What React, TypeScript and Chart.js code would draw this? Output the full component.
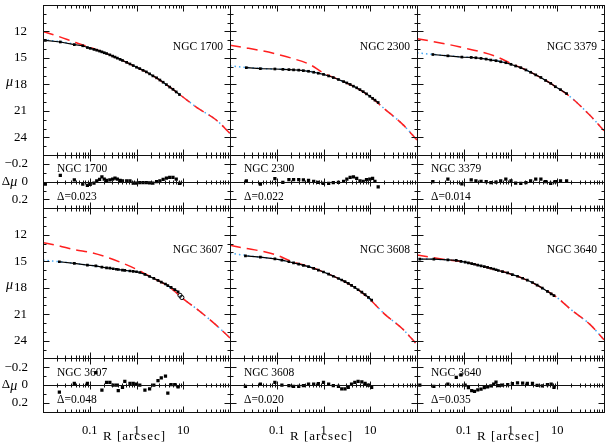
import React, { useEffect, useRef } from 'react';
import { Chart, registerables } from 'chart.js';

Chart.register(...registerables);

// ---------------- data ----------------
const galaxyNames = ['NGC 1700', 'NGC 2300', 'NGC 3379', 'NGC 3607', 'NGC 3608', 'NGC 3640'];
const rmsValues = ['0.023', '0.022', '0.014', '0.048', '0.020', '0.035'];
const xTitle = 'R [arcsec]';

const rTickValues = [0.1, 1, 10];
const muTickValues = [12, 15, 18, 21, 24];
const dmuTickValues = [-0.2, 0, 0.2];

// model curves sampled at these radii (arcsec)
const modelR = [0.01, 0.02, 0.05, 0.1, 0.2, 0.5, 1, 2, 5, 10, 20, 50, 100];

// NGC 1700
const sersic1700 = [12.0, 12.5, 13.25, 13.78, 14.38, 15.28, 16.05, 16.86, 18.25, 19.45, 20.65, 22.0, 23.55];
const core1700 = [12.9, 13.12, 13.45, 13.88, 14.38, 15.28, 16.05, 16.86, 18.25, 19.45, 20.65, 22.0, 23.55];
const logR1700 = [-1.95, -1.63, -1.33, -1.15, -1.05, -0.99, -0.91, -0.85, -0.79, -0.74, -0.69, -0.64, -0.57, -0.51, -0.46, -0.41, -0.35, -0.30, -0.21, -0.14, -0.07, 0.0, 0.07, 0.14, 0.21, 0.28, 0.35, 0.43, 0.50, 0.57, 0.64, 0.71, 0.78, 0.85, 0.92];
const mu1700 = [13.01, 13.19, 13.49, 13.62, 13.82, 13.91, 14.03, 14.12, 14.22, 14.31, 14.41, 14.5, 14.65, 14.79, 14.9, 15.02, 15.16, 15.28, 15.5, 15.68, 15.86, 16.05, 16.21, 16.4, 16.58, 16.8, 17.03, 17.25, 17.5, 17.75, 18.02, 18.3, 18.55, 18.85, 19.15];
const dmu1700 = [0.027, -0.07, -0.02, 0.027, 0.042, 0.03, 0.015, -0.008, -0.027, -0.053, -0.03, -0.015, -0.02, -0.03, -0.04, -0.03, -0.015, -0.01, -0.008, -0.008, 0.015, 0.015, 0.01, 0.01, 0.01, 0.012, 0.015, 0.0, -0.01, -0.027, -0.04, -0.05, -0.05, -0.03, 0.02];

// NGC 2300
const sersic2300 = [13.55, 13.82, 14.2, 14.57, 15.0, 15.72, 16.7, 17.4, 18.38, 19.38, 20.75, 22.55, 24.3];
const core2300 = [15.9, 16.06, 16.2, 16.26, 16.33, 16.52, 16.86, 17.4, 18.38, 19.38, 20.75, 22.55, 24.3];
const logR2300 = [-1.65, -1.35, -1.04, -0.87, -0.74, -0.64, -0.53, -0.43, -0.32, -0.21, -0.11, 0.0, 0.11, 0.21, 0.32, 0.43, 0.50, 0.57, 0.64, 0.71, 0.78, 0.85, 0.92, 0.99, 1.05, 1.10, 1.17];
const mu2300 = [16.10, 16.21, 16.25, 16.29, 16.32, 16.35, 16.38, 16.44, 16.51, 16.62, 16.73, 16.86, 17.04, 17.22, 17.44, 17.68, 17.83, 18.0, 18.2, 18.38, 18.59, 18.82, 19.07, 19.34, 19.58, 19.78, 20.05];
const dmu2300 = [-0.01, 0.027, -0.034, 0.008, -0.023, -0.023, -0.023, -0.02, -0.015, -0.004, 0.008, 0.02, 0.02, 0.011, 0.008, -0.004, -0.03, -0.05, -0.053, -0.038, -0.01, -0.004, -0.023, -0.03, -0.038, -0.004, 0.057];

// NGC 3379
const sersic3379 = [12.82, 13.1, 13.5, 13.86, 14.22, 14.85, 15.6, 16.28, 17.38, 18.36, 19.5, 21.5, 23.24];
const core3379 = [14.42, 14.58, 14.77, 14.9, 15.0, 15.3, 15.72, 16.28, 17.38, 18.36, 19.5, 21.5, 23.24];
const logR3379 = [-1.66, -1.34, -1.04, -0.84, -0.74, -0.63, -0.52, -0.42, -0.31, -0.21, -0.10, 0.01, 0.11, 0.22, 0.33, 0.43, 0.54, 0.65, 0.75, 0.86, 0.96, 1.07, 1.20];
const mu3379 = [14.61, 14.76, 14.9, 14.94, 14.98, 15.05, 15.13, 15.24, 15.31, 15.43, 15.54, 15.72, 15.91, 16.1, 16.36, 16.62, 16.92, 17.21, 17.55, 17.88, 18.26, 18.59, 19.04];
const dmu3379 = [0.0, -0.03, 0.025, -0.02, -0.01, -0.005, 0.0, 0.01, 0.005, -0.01, -0.03, -0.01, 0.015, 0.02, 0.01, -0.01, -0.03, -0.03, 0.0, 0.02, 0.0, -0.01, -0.01];

// NGC 3607
const sersic3607 = [12.89, 13.2, 13.72, 13.98, 14.42, 15.2, 15.9, 16.75, 17.9, 19.25, 20.45, 22.2, 23.69];
const core3607 = [14.87, 15.02, 15.25, 15.45, 15.68, 16.0, 16.18, 16.75, 17.9, 19.25, 20.45, 22.2, 23.69];
const logR3607 = [-1.65, -1.33, -1.05, -0.87, -0.74, -0.64, -0.57, -0.50, -0.43, -0.39, -0.30, -0.25, -0.14, -0.07, 0.0, 0.07, 0.18, 0.28, 0.37, 0.46, 0.53, 0.62, 0.67, 0.74, 0.82, 0.89];
const mu3607 = [15.05, 15.24, 15.43, 15.52, 15.66, 15.74, 15.78, 15.84, 15.9, 15.93, 15.99, 16.03, 16.1, 16.14, 16.18, 16.27, 16.48, 16.72, 16.93, 17.17, 17.36, 17.57, 17.75, 17.96, 18.2, 18.45];
const dmu3607 = [0.08, -0.02, -0.02, -0.14, 0.056, -0.03, -0.03, 0.0, 0.0, 0.063, 0.026, -0.04, -0.02, -0.02, -0.01, 0.0, 0.056, 0.044, 0.0, -0.05, -0.08, -0.1, 0.09, -0.004, -0.004, 0.02];
const logRExcl3607 = [0.93, 0.97];
const muExcl3607 = [18.85, 19.1];

// NGC 3608
const sersic3608 = [13.19, 13.5, 13.88, 14.3, 14.98, 15.62, 16.21, 16.9, 18.07, 19.35, 20.95, 22.7, 24.44];
const core3608 = [14.09, 14.3, 14.57, 14.74, 15.1, 15.62, 16.21, 16.9, 18.07, 19.35, 20.95, 22.7, 24.44];
const logR3608 = [-1.67, -1.35, -1.04, -0.89, -0.74, -0.64, -0.53, -0.43, -0.32, -0.21, -0.11, 0.0, 0.11, 0.21, 0.32, 0.39, 0.46, 0.53, 0.60, 0.67, 0.74, 0.82, 0.89, 0.96, 1.03];
const mu3608 = [14.38, 14.53, 14.72, 14.87, 15.05, 15.17, 15.31, 15.46, 15.61, 15.8, 15.99, 16.21, 16.45, 16.69, 16.95, 17.12, 17.3, 17.5, 17.73, 17.96, 18.22, 18.5, 18.78, 19.08, 19.4];
const dmu3608 = [0.015, -0.01, -0.03, 0.0, 0.007, 0.015, 0.015, 0.007, -0.01, -0.01, -0.015, -0.03, -0.01, 0.007, 0.015, 0.044, 0.044, 0.026, -0.01, -0.03, -0.04, -0.037, -0.02, 0.0, 0.026];

// NGC 3640
const sersic3640 = [14.27, 14.55, 14.87, 15.07, 15.43, 15.98, 16.43, 17.02, 18.1, 19.12, 20.5, 22.15, 23.88];
const core3640 = [14.72, 14.76, 14.85, 15.07, 15.43, 15.98, 16.43, 17.02, 18.1, 19.12, 20.5, 22.15, 23.88];
const logR3640 = [-1.94, -1.64, -1.34, -1.16, -1.06, -0.97, -0.90, -0.83, -0.77, -0.70, -0.63, -0.56, -0.49, -0.42, -0.36, -0.31, -0.26, -0.17, -0.06, 0.04, 0.15, 0.26, 0.36, 0.47, 0.57, 0.68, 0.79, 0.87, 0.93];
const mu3640 = [14.76, 14.76, 14.83, 14.9, 15.0, 15.1, 15.18, 15.26, 15.33, 15.43, 15.51, 15.6, 15.69, 15.79, 15.87, 15.96, 16.04, 16.17, 16.32, 16.51, 16.69, 16.92, 17.14, 17.4, 17.7, 18.03, 18.41, 18.68, 18.88];
const dmu3640 = [0.0, 0.015, -0.01, -0.085, -0.115, 0.0, 0.03, 0.063, 0.07, 0.055, 0.045, 0.03, 0.02, 0.01, -0.01, -0.033, 0.007, 0.0, -0.005, -0.015, -0.025, -0.022, -0.02, -0.018, 0.004, 0.01, -0.005, -0.01, 0.026];

// ---------------- helpers ----------------
const FONT = '"Liberation Serif", "Times New Roman", serif';
const RED = '#ff1f1f';
const BLUE = '#45a8f5';

const panels = [
  { name: galaxyNames[0], rms: rmsValues[0], logR: logR1700, mu: mu1700, dmu: dmu1700, sersic: sersic1700, core: core1700 },
  { name: galaxyNames[1], rms: rmsValues[1], logR: logR2300, mu: mu2300, dmu: dmu2300, sersic: sersic2300, core: core2300 },
  { name: galaxyNames[2], rms: rmsValues[2], logR: logR3379, mu: mu3379, dmu: dmu3379, sersic: sersic3379, core: core3379 },
  { name: galaxyNames[3], rms: rmsValues[3], logR: logR3607, mu: mu3607, dmu: dmu3607, sersic: sersic3607, core: core3607 },
  { name: galaxyNames[4], rms: rmsValues[4], logR: logR3608, mu: mu3608, dmu: dmu3608, sersic: sersic3608, core: core3608 },
  { name: galaxyNames[5], rms: rmsValues[5], logR: logR3640, mu: mu3640, dmu: dmu3640, sersic: sersic3640, core: core3640 },
];

const fromLog = (lr: number[], y: number[]) => lr.map((l, i) => ({ x: Math.pow(10, l), y: y[i] }));
const fromR = (r: number[], y: number[]) => r.map((v, i) => ({ x: v, y: y[i] }));

function buildDatasets() {
  const ds: any[] = [];
  panels.forEach((p, i) => {
    const col = i % 3;
    const row = Math.floor(i / 3);
    const xID = 'x' + col;
    const ymID = 'ym' + row;
    const yrID = 'yr' + row;
    ds.push({
      label: p.name + ' data', data: fromLog(p.logR, p.mu), xAxisID: xID, yAxisID: ymID,
      borderColor: '#000', borderWidth: 1.2, pointStyle: 'rect', pointRadius: 1.9,
      pointBackgroundColor: '#000', pointBorderWidth: 0, order: 0, clip: 0,
    });
    ds.push({
      label: p.name + ' sersic', data: fromR(modelR, p.sersic), xAxisID: xID, yAxisID: ymID,
      borderColor: RED, borderWidth: 1.5, borderDash: [11, 6], pointRadius: 0,
      cubicInterpolationMode: 'monotone', order: 1, clip: 0,
    });
    ds.push({
      label: p.name + ' core', data: fromR(modelR, p.core), xAxisID: xID, yAxisID: ymID,
      borderColor: BLUE, borderWidth: 1.5, borderDash: [1.5, 3], pointRadius: 0,
      cubicInterpolationMode: 'monotone', order: 2, clip: 0,
    });
    ds.push({
      label: p.name + ' residual', data: fromLog(p.logR, p.dmu), xAxisID: xID, yAxisID: yrID,
      showLine: false, pointStyle: 'rect', pointRadius: 2.3, pointBackgroundColor: '#000',
      pointBorderWidth: 0, order: 0, clip: 0,
    });
    if (i === 3) {
      ds.push({
        label: p.name + ' excluded', data: fromLog(logRExcl3607, muExcl3607), xAxisID: xID, yAxisID: ymID,
        showLine: false, pointStyle: 'circle', pointRadius: 2.1, pointBorderWidth: 1,
        pointBorderColor: '#000', pointBackgroundColor: 'rgba(0,0,0,0)', order: 0, clip: 0,
      });
    }
  });
  return ds;
}

const zeroPad = (s: any) => {
  s.paddingTop = 0; s.paddingBottom = 0; s.paddingLeft = 0; s.paddingRight = 0;
};

function buildScales() {
  const scales: any = {};
  [0, 1, 2].forEach((c) => {
    scales['x' + c] = {
      type: 'logarithmic', position: 'bottom', stack: 'cols', stackWeight: 1, weight: c,
      min: 0.01, max: 100, offset: false,
      grid: { display: false }, border: { display: false },
      afterBuildTicks: (s: any) => { s.ticks = rTickValues.map((v) => ({ value: v })); },
      afterFit: (s: any) => { s.height = 31.3; zeroPad(s); },
      ticks: {
        autoSkip: false, maxRotation: 0, minRotation: 0, padding: 4, color: '#000',
        font: { family: FONT, size: 12.5 }, callback: (v: any) => String(v),
      },
      title: { display: false },
    };
  });
  [0, 1].forEach((r) => {
    scales['ym' + r] = {
      type: 'linear', position: 'left', stack: 'rows', stackWeight: 152, weight: r === 0 ? 4 : 2,
      min: 9, max: 26, reverse: true,
      grid: { display: false }, border: { display: false },
      afterBuildTicks: (s: any) => { s.ticks = muTickValues.map((v) => ({ value: v })); },
      afterFit: (s: any) => { s.width = 43; zeroPad(s); },
      ticks: {
        autoSkip: false, padding: 8, color: '#000', font: { family: FONT, size: 13 },
        callback: (v: any) => String(v),
      },
    };
    scales['yr' + r] = {
      type: 'linear', position: 'left', stack: 'rows', stackWeight: 54, weight: r === 0 ? 3 : 1,
      min: -0.3, max: 0.3, reverse: true,
      grid: { display: false }, border: { display: false },
      afterBuildTicks: (s: any) => { s.ticks = dmuTickValues.map((v) => ({ value: v })); },
      afterFit: (s: any) => { s.width = 43; zeroPad(s); },
      ticks: {
        autoSkip: false, padding: 7, color: '#000', font: { family: FONT, size: 13 },
        callback: (v: any) => (Math.abs(v) < 1e-9 ? '0' : (v < 0 ? '\u2212' : '') + Math.abs(v).toFixed(1)),
      },
    };
  });
  return scales;
}

const framePlugin = {
  id: 'panelFrames',
  afterDraw(chart: any) {
    const ctx = chart.ctx as CanvasRenderingContext2D;
    const s = chart.scales;
    const xsList = [s.x0, s.x1, s.x2];
    const rows = [[s.ym0, s.yr0], [s.ym1, s.yr1]];
    const px = (v: number) => Math.round(v) + 0.5;
    const seg = (x1: number, y1: number, x2: number, y2: number) => {
      ctx.beginPath(); ctx.moveTo(x1, y1); ctx.lineTo(x2, y2); ctx.stroke();
    };
    ctx.save();
    ctx.strokeStyle = '#111';
    ctx.lineWidth = 1;
    rows.forEach((pair, r) => {
      xsList.forEach((xs: any, c: number) => {
        const L = px(xs.left);
        const R = px(xs.right);
        pair.forEach((ys: any, k: number) => {
          const T = px(ys.top);
          const B = px(ys.bottom);
          ctx.strokeRect(L, T, R - L, B - T);
          const zeroY = k === 1 ? px(ys.getPixelForValue(0)) : 0;
          if (k === 1) seg(L, zeroY, R, zeroY);
          for (let e = -2; e <= 1; e++) {
            for (let m = 1; m <= 9; m++) {
              const v = m * Math.pow(10, e);
              if (v <= 0.0100001) continue;
              const x = px(xs.getPixelForValue(v));
              const len = m === 1 ? 6 : 3;
              seg(x, T, x, T + len);
              seg(x, B, x, B - len);
              if (k === 1) {
                const h = m === 1 ? 4 : 2;
                seg(x, zeroY - h, x, zeroY + h);
              }
            }
          }
          if (k === 0) {
            for (let v = 10; v <= 25; v++) {
              const y = px(ys.getPixelForValue(v));
              const len = v % 3 === 0 ? 6 : 3;
              seg(L, y, L + len, y);
              seg(R, y, R - len, y);
            }
          } else {
            [-0.2, -0.1, 0, 0.1, 0.2].forEach((v, j) => {
              const y = px(ys.getPixelForValue(v));
              const len = j % 2 === 0 ? 6 : 3;
              seg(L, y, L + len, y);
              seg(R, y, R - len, y);
            });
          }
        });
        // labels
        const p = panels[r * 3 + c];
        const ym = pair[0];
        const yr = pair[1];
        ctx.fillStyle = '#000';
        ctx.font = '11.5px ' + FONT;
        ctx.textBaseline = 'middle';
        ctx.textAlign = 'right';
        ctx.fillText(p.name, xs.right - 7, ym.top + 41.5);
        ctx.textAlign = 'left';
        ctx.fillText(p.name, xs.left + 14, yr.top + 14.2);
        ctx.fillText('\u0394=' + p.rms, xs.left + 14, yr.top + 41.8);
      });
      // y axis titles
      const ym = pair[0];
      const yr = pair[1];
      ctx.fillStyle = '#000';
      ctx.textAlign = 'center';
      ctx.textBaseline = 'middle';
      ctx.font = 'italic 14px ' + FONT;
      ctx.fillText('\u03bc', 9.5, ym.top + ym.height / 2 + 2);
      ctx.font = '13px ' + FONT;
      const zy = yr.getPixelForValue(0);
      const dW = ctx.measureText('\u0394').width;
      ctx.font = 'italic 14px ' + FONT;
      const mW = ctx.measureText('\u03bc').width;
      const startX = 9.5 - (dW + mW) / 2;
      ctx.textAlign = 'left';
      ctx.font = '13px ' + FONT;
      ctx.fillText('\u0394', startX, zy);
      ctx.font = 'italic 14px ' + FONT;
      ctx.fillText('\u03bc', startX + dW, zy + 1);
    });
    // x axis titles (bottom row)
    ctx.font = '13px ' + FONT;
    ctx.textAlign = 'center';
    ctx.textBaseline = 'middle';
    try { (ctx as any).letterSpacing = '1px'; } catch (e) { /* ignore */ }
    xsList.forEach((xs: any) => {
      ctx.fillText(xTitle, (xs.left + xs.right) / 2 - 2, 437);
    });
    try { (ctx as any).letterSpacing = '0px'; } catch (e) { /* ignore */ }
    ctx.restore();
  },
};

export default function App() {
  const canvasRef = useRef<HTMLCanvasElement | null>(null);

  useEffect(() => {
    if (!canvasRef.current) return;
    const chart = new Chart(canvasRef.current, {
      type: 'line',
      data: { datasets: buildDatasets() },
      options: {
        responsive: false,
        maintainAspectRatio: false,
        animation: false,
        events: [],
        layout: { padding: { top: 1, right: 2, left: 0, bottom: 0 } },
        plugins: { legend: { display: false }, tooltip: { enabled: false } },
        scales: buildScales(),
      } as any,
      plugins: [framePlugin],
    });
    return () => chart.destroy();
  }, []);

  return (
    <div style={{ position: 'fixed', left: 0, top: 0, width: 609, height: 443, background: '#fff' }}>
      <canvas ref={canvasRef} width={609} height={443} style={{ display: 'block' }} />
    </div>
  );
}
